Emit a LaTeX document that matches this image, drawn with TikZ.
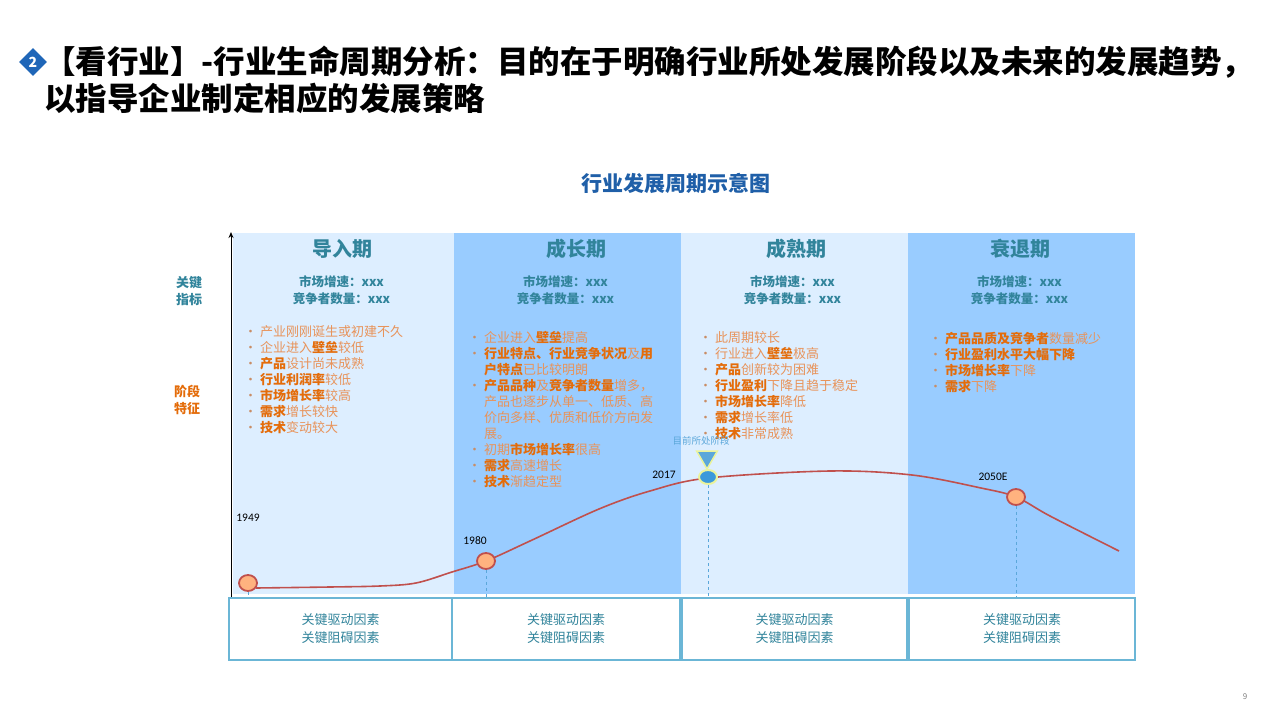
\documentclass[tikz,border=0pt]{standalone}
\usepackage{fontspec}
\setmainfont{Noto Sans CJK SC}
\newfontfamily\numfont{Carlito}
\usetikzlibrary{shapes.geometric,arrows.meta}

\definecolor{paleblue}{HTML}{DDEEFF}
\definecolor{midblue}{HTML}{99CCFF}
\definecolor{tealtext}{HTML}{31849B}
\definecolor{deeporange}{HTML}{E46C0A}
\definecolor{softorange}{HTML}{E8935A}
\definecolor{curvered}{HTML}{C0504D}
\definecolor{peach}{HTML}{FFB27F}
\definecolor{dashblue}{HTML}{5BA7DA}
\definecolor{boxline}{HTML}{6BB6D6}
\definecolor{titleblue}{HTML}{1F5FA8}
\definecolor{badgeblue}{HTML}{1F66B8}

\newcommand{\hb}[1]{{\bfseries\color{deeporange}#1}}
\newcommand{\itm}{\makebox[16pt][l]{\color{softorange!70!gray}•}}
\newcommand{\cont}{\hspace*{16pt}}

\tikzset{
  phase/.style={font=\fontsize{20}{24}\selectfont\bfseries, text=tealtext},
  metric/.style={font=\fontsize{12.5}{17}\selectfont\bfseries, text=tealtext, align=center},
  traits/.style={font=\fontsize{13}{16}\selectfont, text=softorange, align=left, anchor=north west, inner sep=0pt},
  milestone/.style={ellipse, draw=curvered, line width=1.8pt, fill=peach, minimum width=18pt, minimum height=16pt, inner sep=0pt},
  year/.style={font=\numfont\fontsize{11.5}{14}\selectfont},
  factor/.style={draw=boxline, line width=1.2pt, minimum height=62pt, inner sep=0pt, font=\fontsize{13}{18}\selectfont, text=tealtext, align=center},
  guide/.style={dashed, dashblue, line width=0.8pt}
}

\begin{document}
\begin{tikzpicture}[x=1pt,y=-1pt]
   \useasboundingbox[fill=white] (0,0) rectangle (1280,720);

   % title
   \node[diamond, fill=badgeblue, minimum size=28pt, inner sep=0pt, text=white, font=\fontsize{14}{14}\selectfont\bfseries] (badge) at (33,62) {2};
   \node[anchor=west, inner sep=0pt, align=left, font=\fontsize{31.5}{37}\selectfont\bfseries] (title) at (44,80)
      {【看行业】-行业生命周期分析：目的在于明确行业所处发展阶段以及未来的发展趋势，\\以指导企业制定相应的发展策略};
   \node[font=\fontsize{21}{24}\selectfont\bfseries, text=titleblue] (charttitle) at (676,183) {行业发展周期示意图};

   % phase columns
   \foreach \xa/\xb/\col/\name/\hx/\nm in {233/454/paleblue/导入期/342/p1, 454/681/midblue/成长期/576/p2, 681/908/paleblue/成熟期/796/p3, 908/1135/midblue/衰退期/1020/p4}{
      \fill[\col] (\xa,233) rectangle (\xb,594);
      \node[phase] (\nm) at (\hx,249) {\name};
      \node[metric] (\nm m) at ({(\xa+\xb)/2-2},290) {市场增速：xxx\\竞争者数量：xxx};
   }

   \draw[-{Stealth[length=6pt,width=5pt]}, line width=1pt] (231,597) -- (231,232);

   \node[font=\fontsize{13}{17}\selectfont\bfseries, text=tealtext, align=center] (kpi) at (189,291) {关键\\指标};
   \node[font=\fontsize{13}{17}\selectfont\bfseries, text=deeporange, align=center] (stage) at (187,400) {阶段\\特征};

   % stage traits
   \node[traits] (t1) at (244,325) {\itm 产业刚刚诞生或初建不久\\\itm 企业进入\hb{壁垒}较低\\\itm\hb{产品}设计尚未成熟\\\itm\hb{行业利润率}较低\\\itm\hb{市场增长率}较高\\\itm\hb{需求}增长较快\\\itm\hb{技术}变动较大};
   \node[traits] (t2) at (468,331) {\itm 企业进入\hb{壁垒}提高\\\itm\hb{行业特点、行业竞争状况}及\hb{用}\\\cont\hb{户特点}已比较明朗\\\itm\hb{产品品种}及\hb{竞争者数量}增多，\\\cont 产品也逐步从单一、低质、高\\\cont 价向多样、优质和低价方向发\\\cont 展。\\\itm 初期\hb{市场增长率}很高\\\itm\hb{需求}高速增长\\\itm\hb{技术}渐趋定型};
   \node[traits] (t3) at (699,331) {\itm 此周期较长\\\itm 行业进入\hb{壁垒}极高\\\itm\hb{产品}创新较为困难\\\itm\hb{行业盈利}下降且趋于稳定\\\itm\hb{市场增长率}降低\\\itm\hb{需求}增长率低\\\itm\hb{技术}非常成熟};
   \node[traits] (t4) at (929,332) {\itm\hb{产品品质及竞争者}数量减少\\\itm\hb{行业盈利水平大幅下降}\\\itm\hb{市场增长率}下降\\\itm\hb{需求}下降};

   % life cycle curve
   \draw[curvered, line width=1.6pt] plot[smooth, tension=0.55] coordinates {(256,588) (330,587) (380,586) (416,583) (452,572) (486,561) (530,541) (599,509) (650,491) (708,478) (830,471) (912,475) (981,488) (1016,497) (1050,516) (1119,551)};

   \node[milestone] (m1949) at (248,583) {};
   \node[milestone] (m1980) at (486,561) {};
   \node[milestone] (m2050) at (1016,497) {};
   \node[ellipse, draw=yellow!80!green!40, line width=2pt, fill=cyan!70!blue!80, minimum width=18pt, minimum height=14pt, inner sep=0pt] (now) at (708,477) {};
   \node[regular polygon, regular polygon sides=3, shape border rotate=180, fill=dashblue, draw=yellow!80!green!40, line width=1.5pt, minimum size=24pt, inner sep=0pt] (flag) at (707,457) {};
   \node[font=\fontsize{9.5}{11}\selectfont, text=dashblue] (nowlabel) at (701,441) {目前所处阶段};

   \node[year] (y1949) at (248,518) {1949};
   \node[year] (y1980) at (475,541) {1980};
   \node[year] (y2017) at (664,475) {2017};
   \node[year] (y2050) at (993,477) {2050E};

   % factor boxes
   \foreach \xa/\xb/\nm in {229/452/f1, 452/680/f2, 682/907/f3, 909/1135/f4}
      \node[factor, minimum width={(\xb-\xa)*1pt}] (\nm) at ({(\xa+\xb)/2},629) {关键驱动因素\\关键阻碍因素};

   \foreach \m/\f in {m1949/f1, m1980/f2, now/f3, m2050/f4}
      \draw[guide] (\m.south) -- (\m.south |- \f.north);

   \node[font=\fontsize{8}{10}\selectfont, text=gray] (page) at (1245,697) {9};
\end{tikzpicture}
\end{document}
